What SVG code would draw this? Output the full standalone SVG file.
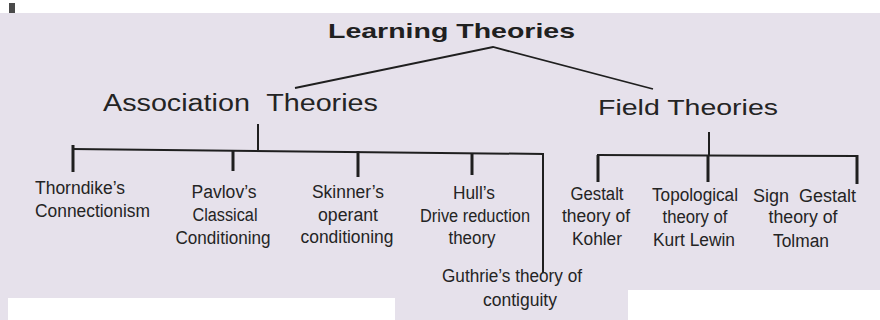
<svg xmlns="http://www.w3.org/2000/svg" width="880" height="320" viewBox="0 0 880 320">
<style>
  .bg { fill: #e6e1eb; }
  .paper { fill: #ffffff; }
  .leaf { font-family: "Liberation Sans", Arial, sans-serif; font-size: 18px; fill: #242424; text-anchor: middle; }
  .head { font-family: "Liberation Sans", Arial, sans-serif; font-size: 23px; fill: #242424; }
  .title { font-family: "Liberation Sans", Arial, sans-serif; font-size: 21px; font-weight: bold; fill: #202020; }
  .ln { stroke: #1f1f1f; fill: none; stroke-linecap: butt; }
  .thin { stroke-width: 1.8; }
  .bar { stroke-width: 2; }
  .drop { stroke-width: 3; }
</style>
<rect class="bg" x="0" y="0" width="880" height="320"/>
<rect class="paper" x="0" y="0" width="880" height="13"/>
<rect class="paper" x="8" y="298" width="387" height="22"/>
<rect class="paper" x="628" y="290" width="252" height="30"/>
<rect x="9" y="3" width="6" height="10" fill="#4a4a4a"/>

<g id="connectors">
  <polyline class="ln thin" points="295,88 493,47 653,89"/>
  <line class="ln bar" x1="258" y1="124" x2="258" y2="150"/>
  <line class="ln bar" x1="72" y1="149" x2="544" y2="154"/>
  <line class="ln drop" x1="73" y1="145" x2="73" y2="172"/>
  <line class="ln drop" x1="233" y1="150" x2="233" y2="171"/>
  <line class="ln drop" x1="358" y1="151" x2="358" y2="177"/>
  <line class="ln drop" x1="472" y1="153" x2="472" y2="175"/>
  <line class="ln bar" x1="543" y1="153" x2="543" y2="273"/>
  <line class="ln bar" x1="709" y1="132" x2="709" y2="155"/>
  <line class="ln bar" x1="597" y1="155" x2="858" y2="156"/>
  <line class="ln drop" x1="598" y1="155" x2="598" y2="182"/>
  <line class="ln drop" x1="708" y1="155" x2="708" y2="182"/>
  <line class="ln drop" x1="857" y1="155" x2="857" y2="184"/>
</g>

<g id="learning-theories">
  <text class="title" x="328" y="38" textLength="247" lengthAdjust="spacingAndGlyphs">Learning Theories</text>
</g>
<g id="association-theories">
  <text class="head" transform="translate(103,111) scale(1.25,1)" x="0" y="0" word-spacing="7">Association Theories</text>
</g>
<g id="field-theories">
  <text class="head" style="font-size:22px" x="598" y="115" textLength="180" lengthAdjust="spacingAndGlyphs">Field Theories</text>
</g>

<g id="thorndike">
  <text class="leaf" style="text-anchor:start" x="35" y="194" textLength="90" lengthAdjust="spacingAndGlyphs">Thorndike’s</text>
  <text class="leaf" style="text-anchor:start" x="35" y="217" textLength="115" lengthAdjust="spacingAndGlyphs">Connectionism</text>
</g>
<g id="pavlov">
  <text class="leaf" x="224" y="198" textLength="65" lengthAdjust="spacingAndGlyphs">Pavlov’s</text>
  <text class="leaf" x="225" y="221" textLength="65" lengthAdjust="spacingAndGlyphs">Classical</text>
  <text class="leaf" x="223" y="244" textLength="95" lengthAdjust="spacingAndGlyphs">Conditioning</text>
</g>
<g id="skinner">
  <text class="leaf" x="348" y="198" textLength="72" lengthAdjust="spacingAndGlyphs">Skinner’s</text>
  <text class="leaf" x="348" y="221" textLength="60" lengthAdjust="spacingAndGlyphs">operant</text>
  <text class="leaf" x="347" y="243" textLength="93" lengthAdjust="spacingAndGlyphs">conditioning</text>
</g>
<g id="hull">
  <text class="leaf" x="474" y="199" textLength="42" lengthAdjust="spacingAndGlyphs">Hull’s</text>
  <text class="leaf" x="475" y="222" textLength="110" lengthAdjust="spacingAndGlyphs">Drive reduction</text>
  <text class="leaf" x="472" y="244" textLength="47" lengthAdjust="spacingAndGlyphs">theory</text>
</g>
<g id="guthrie">
  <text class="leaf" x="512" y="282" textLength="140" lengthAdjust="spacingAndGlyphs">Guthrie’s theory of</text>
  <text class="leaf" x="520" y="306" textLength="74" lengthAdjust="spacingAndGlyphs">contiguity</text>
</g>
<g id="gestalt-kohler">
  <text class="leaf" x="597" y="200" textLength="53" lengthAdjust="spacingAndGlyphs">Gestalt</text>
  <text class="leaf" x="596" y="222" textLength="68" lengthAdjust="spacingAndGlyphs">theory of</text>
  <text class="leaf" x="597" y="245" textLength="50" lengthAdjust="spacingAndGlyphs">Kohler</text>
</g>
<g id="topological-lewin">
  <text class="leaf" x="695" y="201" textLength="86" lengthAdjust="spacingAndGlyphs">Topological</text>
  <text class="leaf" x="695" y="223" textLength="65" lengthAdjust="spacingAndGlyphs">theory of</text>
  <text class="leaf" x="694" y="246" textLength="82" lengthAdjust="spacingAndGlyphs">Kurt Lewin</text>
</g>
<g id="sign-gestalt-tolman">
  <text class="leaf" style="text-anchor:start" x="753" y="202" word-spacing="5">Sign Gestalt</text>
  <text class="leaf" x="803" y="223" textLength="69" lengthAdjust="spacingAndGlyphs">theory of</text>
  <text class="leaf" x="801" y="247" textLength="56" lengthAdjust="spacingAndGlyphs">Tolman</text>
</g>
</svg>
